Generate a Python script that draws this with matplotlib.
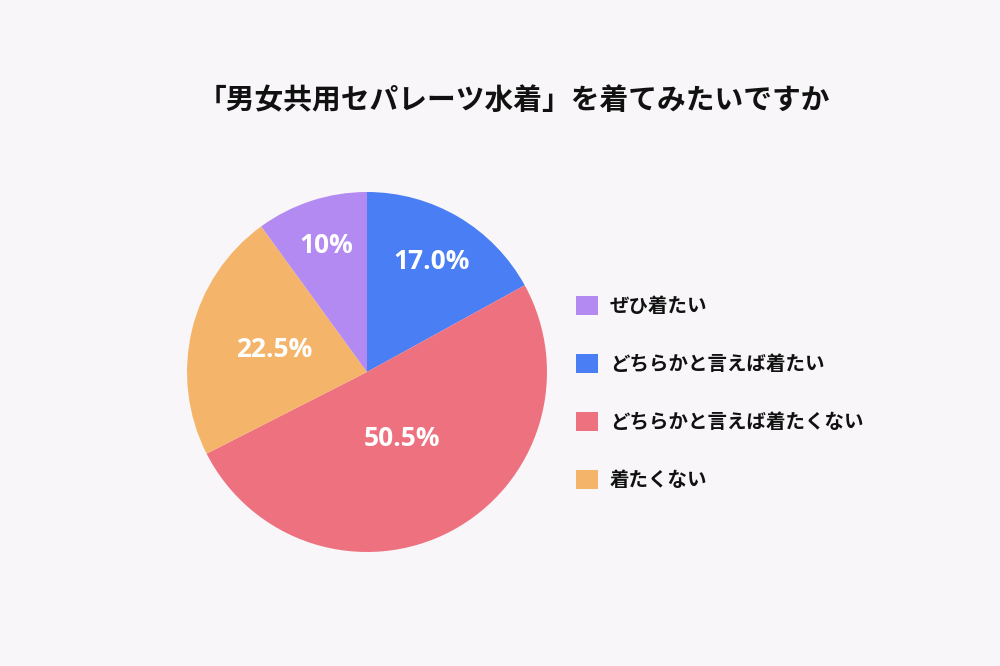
import matplotlib.pyplot as plt
import numpy as np

plt.rcParams['font.family'] = ['Noto Sans CJK JP', 'DejaVu Sans']

title = '「男女共用セパレーツ水着」を着てみたいですか'
# slices in clockwise order from 12 o'clock
labels = ['どちらかと言えば着たい', 'どちらかと言えば着たくない', '着たくない', 'ぜひ着たい']
values = [17.0, 50.5, 22.5, 10.0]
pct_text = ['17.0%', '50.5%', '22.5%', '10%']
colors = ['#4a7ef5', '#ee717f', '#f4b56b', '#b38af2']
legend_order = [3, 0, 1, 2]

bg = '#f8f6f8'
fig = plt.figure(figsize=(10, 6.66), dpi=100)
fig.patch.set_facecolor(bg)

# pie centre at (367, 372) px, radius 180 px
ax = fig.add_axes([0.187, 0.1712, 0.36, 0.5405])
ax.set_facecolor(bg)
wedges, _ = ax.pie(values, colors=colors, startangle=90, counterclock=False,
                   wedgeprops=dict(linewidth=0))
ax.set_xlim(-1, 1)
ax.set_ylim(-1, 1)

# label distance from centre differs per slice in the original
dist = [0.71, 0.42, 0.53, 0.74]
for w, t, d in zip(wedges, pct_text, dist):
    ang = np.deg2rad((w.theta1 + w.theta2) / 2)
    ax.text(d * np.cos(ang), d * np.sin(ang), t, ha='center', va='center',
            color='white', fontsize=19, fontweight='bold',
            family=['Open Sans', 'DejaVu Sans'])

fig.text(0.514, 0.85, title, ha='center', va='center', fontsize=20.7,
         fontweight='bold', color='#111111')

fig.legend([wedges[i] for i in legend_order], [labels[i] for i in legend_order],
           loc='upper left', bbox_to_anchor=(0.576, 1 - 296 / 666),
           frameon=False, borderpad=0, borderaxespad=0,
           handlelength=1.13, handleheight=1.13, handletextpad=0.6,
           labelspacing=1.95, labelcolor='#111111',
           prop={'weight': 'bold', 'size': 14})

fig.savefig('out.png', dpi=100, facecolor=bg)
